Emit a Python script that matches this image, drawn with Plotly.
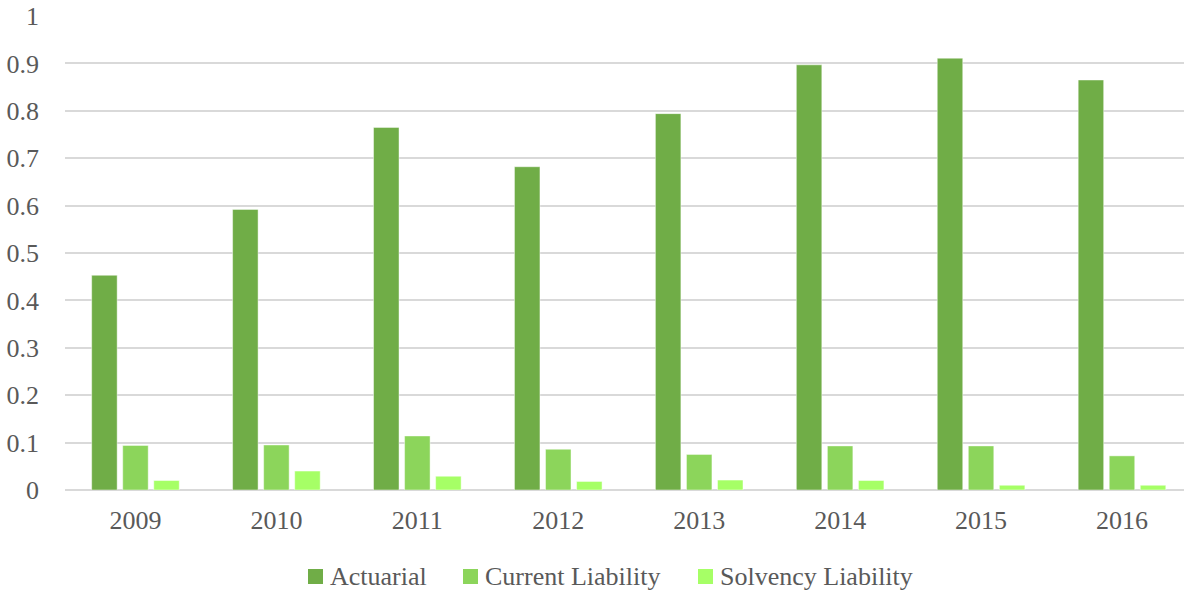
import plotly.graph_objects as go

years = ["2009", "2010", "2011", "2012", "2013", "2014", "2015", "2016"]
actuarial = [0.453, 0.592, 0.765, 0.682, 0.794, 0.897, 0.911, 0.865]
current_liability = [0.094, 0.095, 0.114, 0.086, 0.075, 0.093, 0.093, 0.072]
solvency_liability = [0.020, 0.040, 0.029, 0.018, 0.021, 0.020, 0.010, 0.010]
y_ticks = [0, 0.1, 0.2, 0.3, 0.4, 0.5, 0.6, 0.7, 0.8, 0.9, 1]
y_tick_labels = ["0", "0.1", "0.2", "0.3", "0.4", "0.5", "0.6", "0.7", "0.8", "0.9", "1"]

series = [
    ("Actuarial", actuarial, "#70AD47"),
    ("Current Liability", current_liability, "#8CD55B"),
    ("Solvency Liability", solvency_liability, "#A6FF66"),
]

font_family = "Liberation Serif, Times New Roman, serif"
text_color = "#595959"
font_size = 26

W, H = 1184, 592
M_L, M_R, M_T, M_B = 65, 0, 16, 102
plot_w = W - M_L - M_R
plot_h = H - M_T - M_B


def px_to_paper_x(px):
    return (px - M_L) / plot_w


def px_to_paper_y(py):
    return (H - M_B - py) / plot_h


fig = go.Figure()
for name, vals, color in series:
    fig.add_trace(go.Bar(
        x=list(range(len(years))), y=vals, name=name,
        marker=dict(color=color, line=dict(color="rgba(255,255,255,0.45)", width=1)),
        showlegend=False,
    ))

# Legend row along the bottom: swatch + label for each series
legend_swatch_left = [308, 463, 698]
swatch = 15
legend_mid_y = 576
for (name, _, color), left in zip(series, legend_swatch_left):
    fig.add_shape(
        type="rect", xref="paper", yref="paper",
        x0=px_to_paper_x(left), x1=px_to_paper_x(left + swatch),
        y0=px_to_paper_y(legend_mid_y - swatch / 2 + 0.5),
        y1=px_to_paper_y(legend_mid_y + swatch / 2 + 0.5),
        fillcolor=color, line=dict(width=0), layer="above",
    )
    fig.add_annotation(
        xref="paper", yref="paper",
        x=px_to_paper_x(left + swatch + 5), y=px_to_paper_y(legend_mid_y),
        xanchor="left", yanchor="middle", text=name, showarrow=False,
        font=dict(family=font_family, size=font_size, color=text_color),
    )

fig.update_layout(
    width=W, height=H,
    margin=dict(l=M_L, r=M_R, t=M_T, b=M_B, autoexpand=False),
    paper_bgcolor="white", plot_bgcolor="white",
    barmode="group", bargap=0.339, bargroupgap=0.179,
    font=dict(family=font_family, size=font_size, color=text_color),
    showlegend=False,
    xaxis=dict(
        tickmode="array", tickvals=list(range(len(years))), ticktext=years,
        range=[-0.5, 7.44], showgrid=False, zeroline=False, showline=False,
        ticks="", ticklabelstandoff=12,
    ),
    yaxis=dict(
        range=[0, 1], tickmode="array",
        tickvals=y_ticks, ticktext=y_tick_labels,
        showgrid=True, gridcolor="#D9D9D9", gridwidth=2,
        zeroline=True, zerolinecolor="#D9D9D9", zerolinewidth=2,
        showline=False, ticks="", ticklabelstandoff=25,
    ),
)

fig.write_html("out.html")
